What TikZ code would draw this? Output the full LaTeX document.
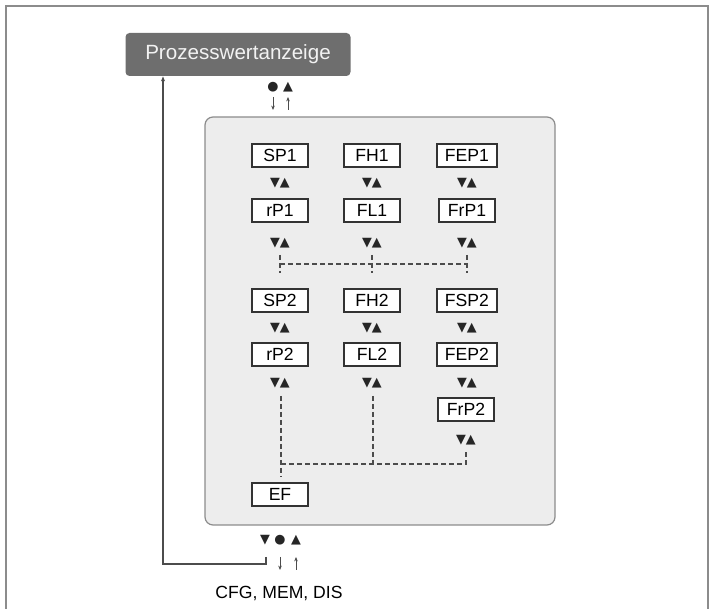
\documentclass[tikz,border=0pt]{standalone}
\usepackage{fontspec}
\setmainfont{Liberation Sans}
\newfontfamily\symfont{DejaVu Sans}
\usetikzlibrary{arrows.meta}

\begin{document}
\begin{tikzpicture}[
  x=0.5pt, y=-0.5pt,
  font=\fontsize{8.8}{10}\selectfont,
  header/.style={fill=black!57, text=white!95!black, rounded corners=2pt, minimum width=112.5pt, minimum height=21.5pt, font=\fontsize{10.3}{12}\selectfont},
  panel/.style={draw=black!45, fill=black!7, rounded corners=4pt, line width=0.6pt, minimum width=175pt, minimum height=204pt},
  param/.style={draw=black!80, line width=0.9pt, fill=white, minimum width=28pt, minimum height=11.5pt, inner xsep=3.8pt, inner ysep=0pt},
  nav/.style={font=\symfont\fontsize{6.4}{6.4}\selectfont, inner sep=0pt, text=black!85},
  link/.style={draw=black!70, dash pattern=on 2.5pt off 1.5pt, line width=0.6pt},
  tick/.style={-{Stealth[length=2.2pt,width=1.8pt]}, draw=black!70, line width=0.45pt},
  flow/.style={-{Stealth[length=2.5pt,width=2pt]}, draw=black!70, line width=0.6pt}
]
\useasboundingbox (0,0) rectangle (709,609);
\draw[black!45, line width=1.1pt] (6,612) -- (6,6) -- (708,6) -- (708,612);

\node[header] (pwa) at (238,54.5) {Prozesswertanzeige};
\node[nav] (dot-top) at (273,87) {●};
\node[nav] (up-top) at (288,87) {▲};
\coordinate (in-a) at (273,97);
\coordinate (in-b) at (273,110);
\coordinate (out-a) at (288,110);
\coordinate (out-b) at (288,97);
\draw[tick] (in-a) -- (in-b);
\draw[tick] (out-a) -- (out-b);

\node[panel] (menu) at (380,321) {};

\foreach \name/\txt/\x/\y in {sp1/SP1/280/155.5, fh1/FH1/372/155.5, fep1/FEP1/467/155.5,
  rp1/rP1/280/210.5, fl1/FL1/372/210.5, frp1/FrP1/467/210.5,
  sp2/SP2/280/300.5, fh2/FH2/372/300.5, fsp2/FSP2/467/300.5,
  rp2/rP2/280/354.5, fl2/FL2/372/354.5, fep2/FEP2/467/354.5,
  frp2/FrP2/466/409.5, ef/EF/280/494.5}
  \node[param] (\name) at (\x,\y) {\txt};

\foreach \name/\x/\y in {n-sp1/280/183, n-fh1/372/183, n-fep1/467/183,
  n-rp1/280/243, n-fl1/372/243, n-frp1/467/243,
  n-sp2/280/328, n-fh2/372/328, n-fsp2/467/328,
  n-rp2/280/383, n-fl2/372/383, n-fep2/467/383, n-frp2/466/440}
  \node[nav] (\name) at (\x,\y) {▼▲};

\draw[link] (280,264) -- (467,264);
\foreach \x in {280,372,467}
  \draw[link] (\x,255) -- (\x,273);

\draw[link] (281,396) -- (281,477);
\draw[link] (373,396) -- (373,464);
\draw[link] (281,464) -- (466,464) -- (466,452);

\node[nav] (dn-bot) at (265,540) {▼};
\node[nav] (dot-bot) at (280,540) {●};
\node[nav] (up-bot) at (296,540) {▲};
\coordinate (ret) at (266,557);
\draw[flow] (ret) -- (266,564) -- (163,564) -- (163,564 |- pwa.south);
\coordinate (bin-a) at (280,557);
\coordinate (bin-b) at (280,570);
\coordinate (bout-a) at (296,570);
\coordinate (bout-b) at (296,557);
\draw[tick] (bin-a) -- (bin-b);
\draw[tick] (bout-a) -- (bout-b);

\node (cfg) at (279,593) {CFG, MEM, DIS};
\end{tikzpicture}
\end{document}
